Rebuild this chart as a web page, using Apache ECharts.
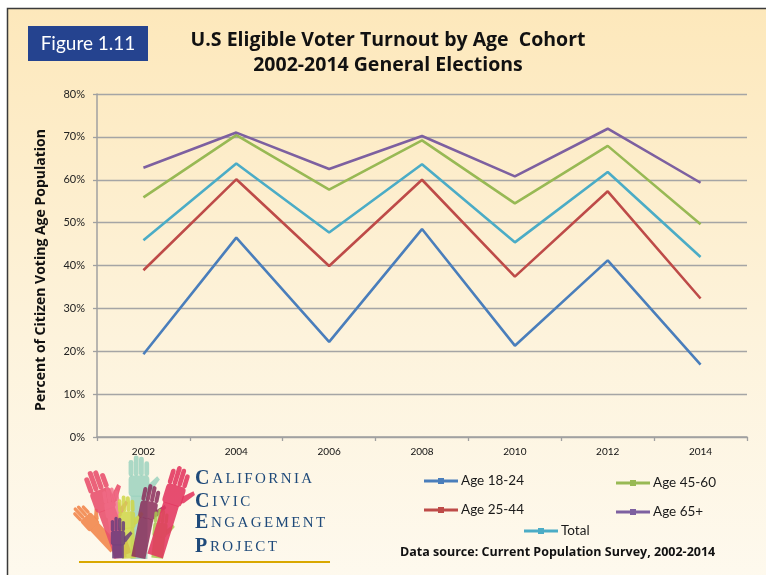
<!DOCTYPE html>
<html>
<head>
<meta charset="utf-8">
<style>
  html, body { margin: 0; padding: 0; background: #fff; }
  #chart { width: 766px; height: 575px; }
</style>
<script src="https://cdn.jsdelivr.net/npm/echarts@6/dist/echarts.min.js"></script>
</head>
<body>
<div id="chart"></div>
<script>
const years = ['2002', '2004', '2006', '2008', '2010', '2012', '2014']
const yTicks = [0, 10, 20, 30, 40, 50, 60, 70, 80]

const age1824 = [19.3, 46.5, 22.2, 48.5, 21.3, 41.2, 16.9]
const age2544 = [38.9, 60.1, 39.9, 60.0, 37.4, 57.3, 32.3]
const total = [45.9, 63.8, 47.7, 63.6, 45.4, 61.8, 42.0]
const age4560 = [55.9, 70.4, 57.7, 69.2, 54.5, 67.9, 49.6]
const age65 = [62.8, 71.0, 62.5, 70.2, 60.8, 71.9, 59.3]

const FONT = 'Lato, "Open Sans", sans-serif'
const BOLD = '"Open Sans", Lato, sans-serif'
const SERIF = '"Liberation Serif", "DejaVu Serif", serif'

const COLORS = {
  a1824: '#4a7ebb',
  a2544: '#be4b48',
  total: '#4bacc6',
  a4560: '#98b954',
  a65: '#7d60a0'
}

// line with a little square in the middle, like the Excel legend key
const LEGEND_ICON = 'path://M0,2.5L14,2.5L14,1L20,1L20,2.5L34,2.5L34,5.5L20,5.5L20,7L14,7L14,5.5L0,5.5Z'

function makeLegend(name, left, top) {
  return {
    data: [name],
    left: left,
    top: top,
    padding: 0,
    itemGap: 0,
    itemWidth: 34,
    itemHeight: 8,
    icon: LEGEND_ICON,
    selectedMode: false,
    textStyle: { fontFamily: FONT, fontSize: 13.5, color: '#1a1a1a', padding: [0, 0, 0, -2] }
  }
}

function makeSeries(name, data, color) {
  return {
    name: name,
    type: 'line',
    data: data,
    symbol: 'rect',
    showSymbol: false,
    color: color,
    lineStyle: { width: 2.6, color: color },
    emphasis: { disabled: true }
  }
}

// rough hand shape for the logo, arm runs down to the logo baseline
function hand(x, y, rot, s, color, op) {
  const st = { fill: color, opacity: op }
  const armLen = (557 - y) / s - 6
  return {
    type: 'group',
    x: x,
    y: y,
    rotation: rot,
    scaleX: s,
    scaleY: s,
    silent: true,
    children: [
      { type: 'rect', shape: { x: -8, y: -8, width: 16, height: 16, r: 3 }, style: st },
      { type: 'rect', shape: { x: -8, y: -20, width: 3.7, height: 12.5, r: 1.8 }, style: st },
      { type: 'rect', shape: { x: -4, y: -23.5, width: 3.7, height: 15.8, r: 1.8 }, style: st },
      { type: 'rect', shape: { x: 0, y: -22.5, width: 3.7, height: 14.8, r: 1.8 }, style: st },
      { type: 'rect', shape: { x: 4.1, y: -19, width: 3.7, height: 11.3, r: 1.8 }, style: st },
      { type: 'polygon', shape: { points: [[7, 5], [9.5, 4], [16, -5], [14, -7.5], [7, -1]] }, style: st },
      { type: 'rect', shape: { x: -6.5, y: 7.5, width: 13, height: armLen }, style: st }
    ]
  }
}

function spaced(word) {
  const first = '{a|' + word[0] + '}'
  const rest = word.slice(1).split('').map(ch => '{b|' + ch + '}').join('')
  return first + rest
}

function logoText(word, y) {
  return {
    type: 'text',
    left: 195,
    top: y,
    silent: true,
    style: {
      text: spaced(word),
      rich: {
        a: { fontFamily: SERIF, fontSize: 20, fontWeight: 'bold', fill: '#1f4a7a', padding: [0, 1.5, 0, 0] },
        b: { fontFamily: SERIF, fontSize: 15, fill: '#1f4a7a', padding: [0, 1.2, 0, 1.2] }
      }
    }
  }
}

const chart = echarts.init(document.getElementById('chart'))

const option = {
  animation: false,
  title: {
    text: 'U.S Eligible Voter Turnout by Age  Cohort\n2002-2014 General Elections',
    left: 383,
    top: 23,
    textAlign: 'center',
    textStyle: { fontFamily: BOLD, fontSize: 19.5, fontWeight: 'bold', color: '#111', lineHeight: 25 }
  },
  legend: [
    makeLegend('Age 18-24', 424, 474),
    makeLegend('Age 45-60', 616, 476),
    makeLegend('Age 25-44', 424, 503),
    makeLegend('Age 65+', 616, 505),
    makeLegend('Total', 524, 524)
  ],
  grid: { left: 97, right: 19, top: 94, bottom: 138, containLabel: false },
  xAxis: {
    type: 'category',
    data: years,
    boundaryGap: true,
    axisLine: { lineStyle: { color: '#a0a0a0', width: 1.5 } },
    axisTick: { show: true, length: 4, lineStyle: { color: '#a0a0a0', width: 1.3 } },
    axisLabel: { fontFamily: FONT, fontSize: 10, color: '#111', margin: 10 }
  },
  yAxis: {
    type: 'value',
    min: 0,
    max: 80,
    interval: 10,
    axisLine: { show: true, lineStyle: { color: '#a0a0a0', width: 1.5 } },
    axisTick: { show: true, length: 4, lineStyle: { color: '#a0a0a0', width: 1.3 } },
    splitLine: { lineStyle: { color: '#a5a5a5', width: 1.4 } },
    axisLabel: {
      fontFamily: FONT,
      fontSize: 11,
      color: '#222',
      margin: 12,
      formatter: v => (yTicks.indexOf(v) >= 0 ? v + '%' : '')
    }
  },
  series: [
    makeSeries('Age 18-24', age1824, COLORS.a1824),
    makeSeries('Age 25-44', age2544, COLORS.a2544),
    makeSeries('Total', total, COLORS.total),
    makeSeries('Age 45-60', age4560, COLORS.a4560),
    makeSeries('Age 65+', age65, COLORS.a65)
  ],
  graphic: [
    // panel background
    {
      type: 'rect',
      z: -10,
      silent: true,
      shape: { x: 7.5, y: 8.5, width: 800, height: 600 },
      style: {
        fill: new echarts.graphic.LinearGradient(0, 0, 0, 1, [
          { offset: 0, color: '#fde8bb' },
          { offset: 0.55, color: '#fdf3dc' },
          { offset: 1, color: '#fefaf0' }
        ]),
        stroke: '#3a3a3a',
        lineWidth: 1.5
      }
    },
    // figure badge
    {
      type: 'rect',
      silent: true,
      shape: { x: 28, y: 26, width: 120, height: 35 },
      style: { fill: '#25438f' }
    },
    {
      type: 'text',
      silent: true,
      x: 88,
      y: 44,
      style: {
        text: 'Figure 1.11',
        fontFamily: FONT,
        fontSize: 19,
        fill: '#ffffff',
        align: 'center',
        verticalAlign: 'middle'
      }
    },
    // y axis name
    {
      type: 'text',
      silent: true,
      x: 41,
      y: 270,
      rotation: Math.PI / 2,
      style: {
        text: 'Percent of Citizen Voting Age Population',
        fontFamily: BOLD,
        fontSize: 14,
        fontWeight: 'bold',
        fill: '#111',
        align: 'center',
        verticalAlign: 'middle'
      }
    },
    // data source
    {
      type: 'text',
      silent: true,
      x: 400,
      y: 552,
      style: {
        text: 'Data source: Current Population Survey, 2002-2014',
        fontFamily: BOLD,
        fontSize: 12.5,
        fontWeight: 'bold',
        fill: '#111',
        verticalAlign: 'middle'
      }
    },
    // logo hands
    hand(90, 522, 0.75, 0.9, '#f2874e', 0.9),
    hand(103, 500, 0.35, 1.35, '#e84d6b', 0.88),
    hand(139, 486, 0.0, 1.3, '#8fcdb9', 0.75),
    hand(113, 510, 0.15, 1.0, '#f06a86', 0.8),
    hand(127, 520, 0.05, 1.05, '#cfd646', 0.85),
    hand(118, 538, 0, 0.9, '#6a3d7c', 0.85),
    hand(148, 510, -0.2, 1.1, '#8a2d5a', 0.85),
    hand(160, 530, -0.1, 0.9, '#a9c94f', 0.85),
    hand(174, 495, -0.3, 1.25, '#e2365e', 0.88),
    // logo text
    logoText('CALIFORNIA', 469),
    logoText('CIVIC', 492),
    logoText('ENGAGEMENT', 513),
    logoText('PROJECT', 537),
    {
      type: 'rect',
      silent: true,
      shape: { x: 79, y: 561, width: 251, height: 2 },
      style: { fill: '#d9a800' }
    }
  ]
}

chart.setOption(option)
</script>
</body>
</html>
